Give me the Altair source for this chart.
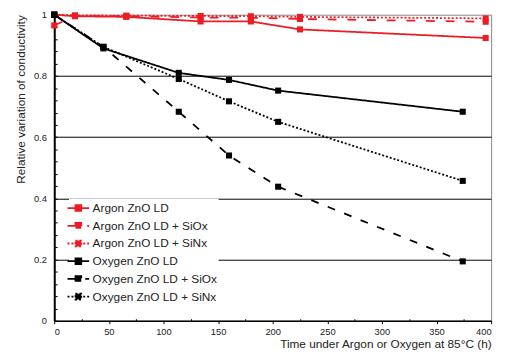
import altair as alt
import pandas as pd

# ---- data ----
series_names = [
    "Argon ZnO LD", "Argon ZnO LD + SiOx", "Argon ZnO LD + SiNx",
    "Oxygen ZnO LD", "Oxygen ZnO LD + SiOx", "Oxygen ZnO LD + SiNx",
]
argon_time = [0, 19, 66, 134, 180, 225, 395]
argon_zno = [1.0, 0.995, 0.993, 0.978, 0.978, 0.952, 0.924]
argon_siox = [0.965, 0.996, 0.995, 0.991, 0.99, 0.986, 0.977]
argon_sinx = [1.0, 0.998, 0.997, 0.996, 0.995, 0.993, 0.988]

oxygen_time = [0, 45, 114, 160, 205, 374]
oxygen_zno = [1.0, 0.89, 0.81, 0.787, 0.752, 0.683]
oxygen_siox = [1.0, 0.895, 0.683, 0.54, 0.438, 0.194]
oxygen_sinx = [1.0, 0.895, 0.79, 0.717, 0.65, 0.457]

x_major_ticks = [0, 50, 100, 150, 200, 250, 300, 350, 400]
x_minor_ticks = [25, 75, 125, 175, 225, 275, 325, 375]
y_tick_values = [0, 0.04, 0.08, 0.12, 0.16, 0.2, 0.24, 0.28, 0.32, 0.36, 0.4, 0.44, 0.48,
                 0.52, 0.56, 0.6, 0.64, 0.68, 0.72, 0.76, 0.8, 0.84, 0.88, 0.92, 0.96, 1.0]

series_colors = ["#ed1c24", "#ed1c24", "#ed1c24", "#000000", "#000000", "#000000"]
series_dashes = [[1, 0], [9, 11], [2, 2], [1, 0], [8, 10], [2, 2]]

rows = []
for name, xs, ys in [
    (series_names[0], argon_time, argon_zno),
    (series_names[1], argon_time, argon_siox),
    (series_names[2], argon_time, argon_sinx),
    (series_names[3], oxygen_time, oxygen_zno),
    (series_names[4], oxygen_time, oxygen_siox),
    (series_names[5], oxygen_time, oxygen_sinx),
]:
    for xv, yv in zip(xs, ys):
        rows.append({"series": name, "time": xv, "value": yv})
df = pd.DataFrame(rows)

FONT = "Liberation Sans"
LEGEND_SYMBOL = "M-1.5,0H1.5M-0.4,-0.4H0.4V0.4H-0.4Z"

color_scale = alt.Scale(domain=series_names, range=series_colors)
dash_scale = alt.Scale(domain=series_names, range=series_dashes)
x_scale = alt.Scale(domain=[0, 400], nice=False)

x_major = alt.X(
    "time:Q", scale=x_scale,
    axis=alt.Axis(
        orient="bottom", values=x_major_ticks, format="d", grid=False,
        domainColor="#000", domainWidth=1.5,
        tickColor="#000", tickSize=3, tickWidth=1,
        labelPadding=3, labelFontSize=9.5, labelColor="#222", labelFont=FONT,
        title="Time under Argon or Oxygen at 85°C (h)",
        titleFont=FONT, titleFontSize=12, titleFontWeight="normal", titleColor="#222",
        titleAnchor="end", titlePadding=3,
    ),
)
x_minor = alt.X(
    "time:Q", scale=x_scale,
    axis=alt.Axis(
        orient="bottom", values=x_minor_ticks, labels=False, domain=False, grid=False,
        title=None, tickColor="#000", tickWidth=1, tickSize=alt.ExprRef(expr="-2"),
    ),
)
x_none = alt.X("time:Q", scale=x_scale, axis=None)

y_enc = alt.Y(
    "value:Q",
    scale=alt.Scale(domain=[0, 1], nice=False),
    axis=alt.Axis(
        values=y_tick_values,
        labelExpr="abs(datum.value*5 - round(datum.value*5)) < 0.001 ? format(datum.value, '~g') : ''",
        grid=True, gridColor="#000", gridWidth=1,
        gridOpacity={"condition": {"test": "abs(datum.value*5 - round(datum.value*5)) < 0.001 && datum.value > 0.01 && datum.value < 0.99", "value": 1}, "value": 0},
        domainColor="#000", domainWidth=2,
        tickColor="#000", tickSize=alt.ExprRef(expr="-3"), tickWidth=1,
        labelPadding=11, labelFontSize=9.5, labelColor="#222", labelFont=FONT,
        title="Relative variation of conductivity",
        titleFont=FONT, titleFontSize=12, titleFontWeight="normal", titleColor="#222",
        titleAnchor="end", titlePadding=6,
    ),
)

leg = alt.Legend(
    orient="none", legendX=15, legendY=187, title=None,
    fillColor="white", padding=1, rowPadding=2,
    labelFont=FONT, labelFontSize=12, labelColor="#222", labelOffset=6,
    symbolType=LEGEND_SYMBOL, symbolSize=215, symbolStrokeWidth=1.8,
)

legend_layer = alt.Chart(df).transform_filter("false").mark_point(
    shape=LEGEND_SYMBOL, filled=True, size=215, strokeWidth=1.8, opacity=1
).encode(
    x=x_none, y=y_enc,
    fill=alt.Fill("series:N", scale=color_scale, legend=leg),
    stroke=alt.Stroke("series:N", scale=color_scale, legend=leg),
    strokeDash=alt.StrokeDash("series:N", scale=dash_scale, legend=leg),
)
lines = alt.Chart(df).mark_line(strokeWidth=1.8).encode(
    x=x_major, y=y_enc,
    stroke=alt.Stroke("series:N", scale=color_scale, legend=None),
    strokeDash=alt.StrokeDash("series:N", scale=dash_scale, legend=None),
)
points = alt.Chart(df).mark_square(size=38, opacity=1).encode(
    x=x_minor, y=y_enc,
    fill=alt.Fill("series:N", scale=color_scale, legend=None),
)

chart = alt.layer(legend_layer, lines, points).resolve_axis(x="independent").properties(
    width=444, height=311,
    autosize=alt.AutoSizeParams(type="none"),
    padding={"left": 47, "top": 4, "right": 8, "bottom": 33},
    background="white",
).configure_view(stroke="#888", strokeWidth=1)

chart.save("out.html", embed_options={"renderer": "svg", "actions": False})
